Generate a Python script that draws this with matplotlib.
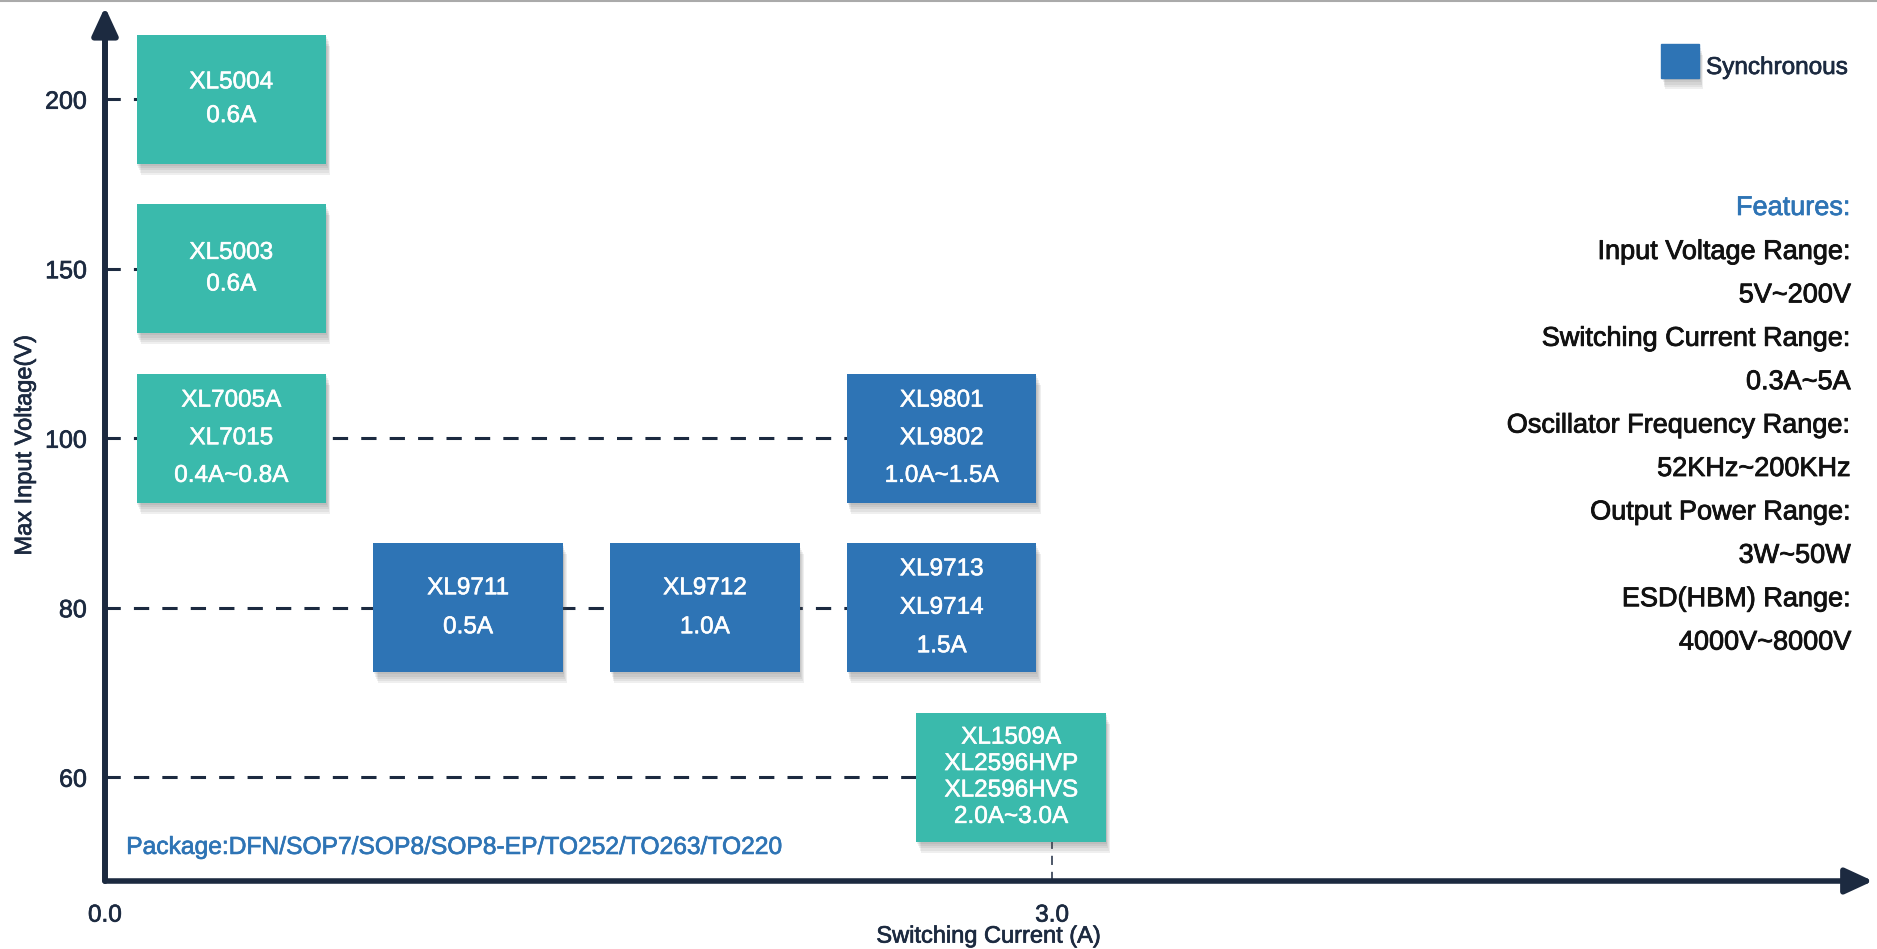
import matplotlib.pyplot as plt
import matplotlib.patheffects as pe
from matplotlib.patches import Rectangle
from matplotlib.lines import Line2D

plt.rcParams['font.family'] = ['Liberation Sans', 'DejaVu Sans']

# data
voltage_levels = [60, 80, 100, 150, 200]
box_labels = ["XL5004\n0.6A", "XL5003\n0.6A", "XL7005A\nXL7015\n0.4A~0.8A",
              "XL9801\nXL9802\n1.0A~1.5A", "XL9711\n0.5A", "XL9712\n1.0A",
              "XL9713\nXL9714\n1.5A",
              "XL1509A\nXL2596HVP\nXL2596HVS\n2.0A~3.0A"]
box_current = [0.4, 0.4, 0.4, 2.65, 1.15, 1.9, 2.65, 2.87]
box_voltage = [200, 150, 100, 100, 80, 80, 80, 60]
box_sync = [False, False, False, True, True, True, True, False]
x_ticks = [0.0, 3.0]
marker_current = 3.0
legend_label = "Synchronous"
features_title = "Features:"
features_lines = ["Input Voltage Range:", "5V~200V",
                  "Switching Current Range:", "0.3A~5A",
                  "Oscillator Frequency Range:", "52KHz~200KHz",
                  "Output Power Range:", "3W~50W",
                  "ESD(HBM) Range:", "4000V~8000V"]
package_text = "Package:DFN/SOP7/SOP8/SOP8-EP/TO252/TO263/TO220"

# styles
TEAL = "#3abaac"
BLUE = "#2e74b5"
NAVY = "#1c2a40"
BOX_W = 0.6
BOX_H = 0.76
line_spacing = [1.69, 1.57, 1.92, 1.92, 2.0, 2.0, 1.97, 1.26]


def heavy(color, w=0.5):
    # a thin outline in the text colour, the reference fonts look a bit heavier
    return [pe.withStroke(linewidth=w, foreground=color)]


W, H = 1877, 949
fig = plt.figure(figsize=(W / 100, H / 100), dpi=100)
ax = fig.add_axes([105 / W, 68 / H, (1873 - 105) / W, 874 / H])
ax.set_xlim(0, 5.6)
ax.set_ylim(-0.612, 4.544)
for s in ax.spines.values():
    s.set_visible(False)

shadow = [pe.SimplePatchShadow(offset=(o * 0.6, -o * 1.6), shadow_rgbFace="#555555", alpha=0.09)
          for o in (1, 2, 3, 4, 5)] + [pe.Normal()]

level_pos = [voltage_levels.index(v) for v in box_voltage]

# dashed guide lines
for i, v in enumerate(voltage_levels):
    xs = [c for c, lv in zip(box_current, box_voltage) if lv == v]
    ax.plot([0, max(xs)], [i, i], color=NAVY, lw=2.2, dashes=(5, 4.3), zorder=1,
            solid_capstyle="butt")
ax.plot([marker_current, marker_current], [-0.612, 0], color=NAVY, lw=1.1,
        dashes=(6, 4.5), zorder=1)

colors = [BLUE if s else TEAL for s in box_sync]
bars = ax.bar(box_current, [BOX_H] * len(box_current),
              bottom=[p - BOX_H / 2 for p in level_pos], width=BOX_W,
              color=colors, zorder=3)
for b in bars:
    b.set_path_effects(shadow)

for x, p, lab, ls in zip(box_current, level_pos, box_labels, line_spacing):
    ax.text(x, p, lab, ha="center", va="center", color="white", fontsize=17.5,
            linespacing=ls, zorder=4, multialignment="center",
            path_effects=heavy("white", 0.4))

# axes with arrows
ax.annotate("", xy=(0, 1), xytext=(0, 0), xycoords="axes fraction",
            arrowprops=dict(arrowstyle="-|>,head_length=1.3,head_width=0.6",
                            color=NAVY, lw=4.3, mutation_scale=13,
                            shrinkA=0, shrinkB=0), zorder=5)
ax.annotate("", xy=(1, 0), xytext=(0, 0), xycoords="axes fraction",
            arrowprops=dict(arrowstyle="-|>,head_length=1.3,head_width=0.6",
                            color=NAVY, lw=4.0, mutation_scale=13,
                            shrinkA=0, shrinkB=0), zorder=5)

ax.set_yticks(range(len(voltage_levels)))
ax.set_yticklabels([str(v) for v in voltage_levels])
ax.set_xticks(x_ticks)
ax.set_xticklabels([f"{v:.1f}" for v in x_ticks])
ax.tick_params(axis="y", length=0, pad=13, labelsize=18, labelcolor=NAVY)
ax.tick_params(axis="x", length=0, pad=17, labelsize=17.5, labelcolor=NAVY)
for t in ax.get_xticklabels() + ax.get_yticklabels():
    t.set_path_effects(heavy(NAVY))

ax.set_ylabel("Max Input Voltage(V)", fontsize=17, color=NAVY,
              path_effects=heavy(NAVY))
ax.yaxis.set_label_coords(-0.039, 0.499)
ax.set_xlabel("Switching Current (A)", fontsize=17, color=NAVY,
              path_effects=heavy(NAVY))
ax.xaxis.set_label_coords(0.5, -0.051)

ax.text(0.012, 0.039, package_text, transform=ax.transAxes, ha="left",
        va="center", color=BLUE, fontsize=17.7, path_effects=heavy(BLUE))

# legend
leg_box = Rectangle((1661, H - 78), 38, 34, transform=None, color=BLUE)
leg_box.set_path_effects(shadow)
fig.add_artist(leg_box)
fig.text(1706 / W, 1 - 68 / H, legend_label, ha="left", va="center",
         color=NAVY, fontsize=17.5, path_effects=heavy(NAVY))

# features block
fig.text(1851 / W, 1 - 208 / H, features_title, ha="right", va="center",
         color=BLUE, fontsize=19.5, path_effects=heavy(BLUE))
for k, line in enumerate(features_lines):
    fig.text(1851 / W, 1 - (252 + 43.4 * k) / H, line, ha="right", va="center",
             color="#111111", fontsize=19.5, path_effects=heavy("#111111", 0.6))

fig.add_artist(Line2D([0, 1], [0.999, 0.999], color="#aaaaaa", lw=1.5))

fig.savefig("out.png", dpi=100)
